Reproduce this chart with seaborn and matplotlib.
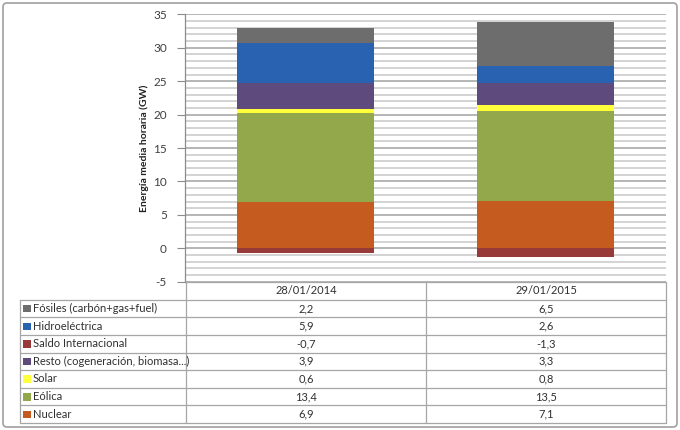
import numpy as np
import pandas as pd
import matplotlib
matplotlib.use("Agg")
import matplotlib.pyplot as plt
from matplotlib.patches import FancyBboxPatch, Rectangle
import seaborn as sns

# data (GW)
dates = ["28/01/2014", "29/01/2015"]
# listed top to bottom as in the data table
series = ["Fósiles (carbón+gas+fuel)", "Hidroeléctrica", "Saldo Internacional",
          "Resto (cogeneración, biomasa...)", "Solar", "Eólica", "Nuclear"]
fosiles = [2.2, 6.5]
hidro = [5.9, 2.6]
saldo = [-0.7, -1.3]
resto = [3.9, 3.3]
solar = [0.6, 0.8]
eolica = [13.4, 13.5]
nuclear = [6.9, 7.1]
colors = ["#6d6d6d", "#2862b0", "#983a38", "#5e4a7c", "#ffff3c", "#92a84b", "#c55b1e"]

values = {s: v for s, v in zip(series, [fosiles, hidro, saldo, resto, solar, eolica, nuclear])}
col_of = dict(zip(series, colors))

sns.set_theme(style="white")
plt.rcParams['font.family'] = ['Lato', 'DejaVu Sans']
plt.rcParams['axes.unicode_minus'] = False

W, H = 680, 430
fig = plt.figure(figsize=(W / 100, H / 100), dpi=100)

# plot area in pixel coordinates
px_l, px_r, px_t, px_b = 185, 666, 14.4, 281.7
ax = fig.add_axes([px_l / W, 1 - px_b / H, (px_r - px_l) / W, (px_b - px_t) / H])

# stacking: positives from bottom up, negative below zero
stack_order = ["Nuclear", "Eólica", "Solar", "Resto (cogeneración, biomasa...)",
               "Hidroeléctrica", "Fósiles (carbón+gas+fuel)"]
bottom = np.zeros(len(dates))
for s in stack_order:
    v = np.array(values[s])
    sns.barplot(x=dates, y=v, bottom=bottom, color=col_of[s], width=0.57,
                saturation=1, ax=ax, zorder=3, linewidth=0)
    bottom = bottom + v
sns.barplot(x=dates, y=np.array(saldo), color=col_of["Saldo Internacional"], width=0.57,
            saturation=1, ax=ax, zorder=3, linewidth=0)

ax.set_ylim(-5, 35)
ax.set_xlim(-0.5, 1.5)
ax.set_yticks(np.arange(-5, 36, 5))
ax.set_yticks(np.arange(-5, 36, 1), minor=True)
ax.grid(axis="y", which="minor", color="#d0d0d0", linewidth=1.3, zorder=0)
ax.grid(axis="y", which="major", color="#b0b0b0", linewidth=1.3, zorder=0)
ax.set_axisbelow(True)
ax.set_xticks([])
ax.set_xlabel("")
ax.tick_params(axis="y", which="major", left=True, length=6, width=0.8, color="#8c8c8c",
               labelsize=8.5, labelcolor="#404040", pad=7)
ax.tick_params(axis="y", which="minor", left=False)
for side in ["top", "right", "bottom"]:
    ax.spines[side].set_visible(False)
ax.spines["left"].set_color("#8c8c8c")
ax.spines["left"].set_linewidth(0.9)
ax.set_ylabel("Energía media horaria (GW)", fontsize=7.5, fontweight="bold", color="#202020",
              labelpad=3)

# overlay in pixel coordinates for the data table and the frame
ov = fig.add_axes([0, 0, 1, 1], facecolor="none")
ov.set_xlim(0, W)
ov.set_ylim(H, 0)
ov.axis("off")

ov.add_patch(FancyBboxPatch((3, 3), W - 6, H - 6, boxstyle="round,pad=0,rounding_size=4",
                            fill=False, edgecolor="#a0a0a0", linewidth=1.2))

tab_l, c1, c2, tab_r = 20, 186, 426, 666
row_top = 282
row_h = (423 - 282) / 8
line_c = "#a6a6a6"
# header row (no cell for the label column)
ov.plot([c1, tab_r], [row_top, row_top], color=line_c, lw=0.9)
for i, d in enumerate(dates):
    cx = (c1 + c2) / 2 if i == 0 else (c2 + tab_r) / 2
    ov.text(cx, row_top + row_h / 2, d, ha="center", va="center", fontsize=8, color="#303030")
for r in range(1, 9):
    y = row_top + r * row_h
    ov.plot([tab_l, tab_r], [y, y], color=line_c, lw=0.9)
ov.plot([tab_l, tab_l], [row_top + row_h, row_top + 8 * row_h], color=line_c, lw=0.9)
for x in [c1, c2, tab_r]:
    ov.plot([x, x], [row_top, row_top + 8 * row_h], color=line_c, lw=0.9)

for r, s in enumerate(series):
    yc = row_top + (r + 1.5) * row_h
    ov.add_patch(Rectangle((23, yc - 3.5), 7.5, 7.5, facecolor=col_of[s], edgecolor="none"))
    ov.text(33, yc, s, ha="left", va="center", fontsize=8, color="#303030")
    for i, v in enumerate(values[s]):
        cx = (c1 + c2) / 2 if i == 0 else (c2 + tab_r) / 2
        ov.text(cx, yc, f"{v:.1f}".replace(".", ","), ha="center", va="center",
                fontsize=8, color="#303030")

fig.savefig("out.png", dpi=100)
